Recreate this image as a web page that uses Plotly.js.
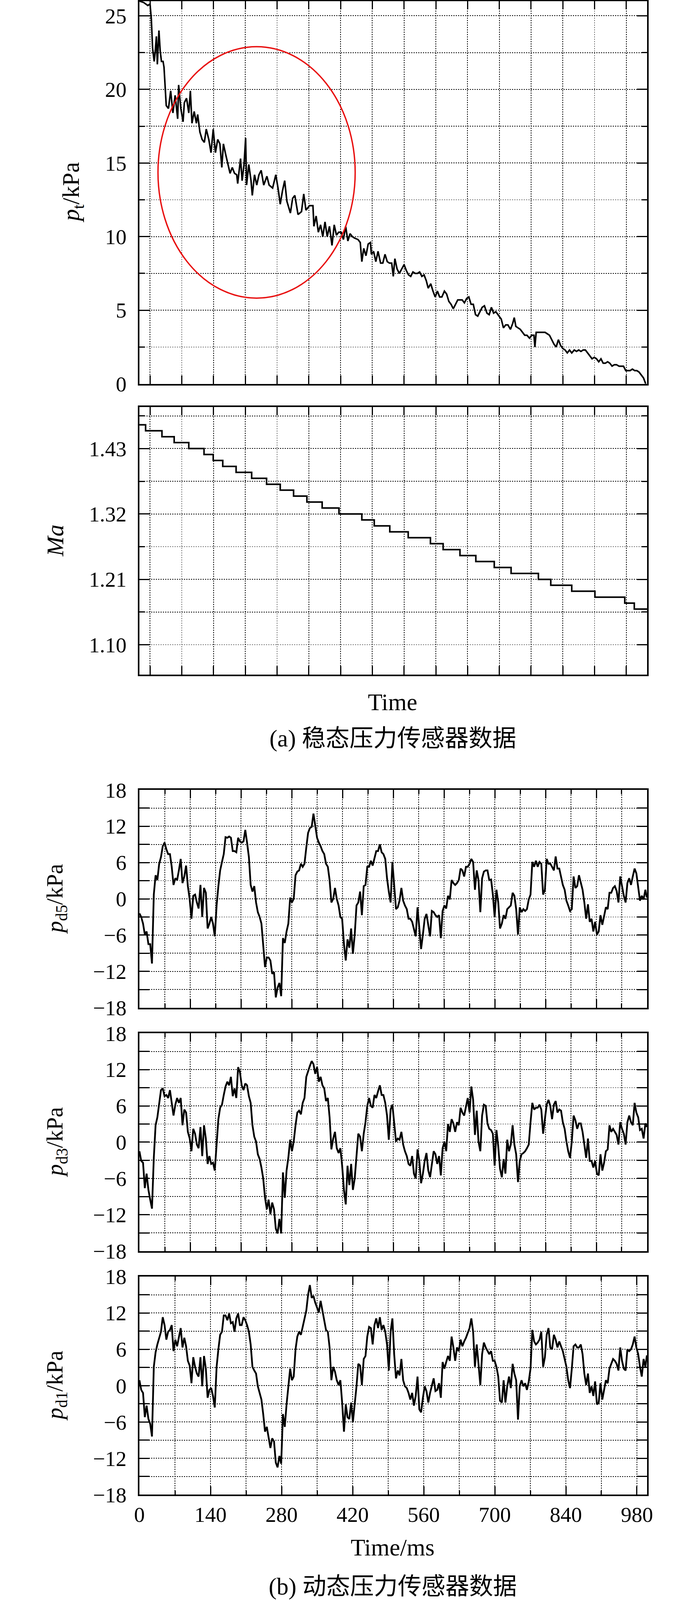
<!DOCTYPE html>
<html>
<head>
<meta charset="utf-8">
<script src="https://cdn.plot.ly/plotly-3.0.1.min.js"></script>
<style>html,body{margin:0;padding:0;background:#fff;overflow:hidden}#plot{display:block}</style>
</head>
<body>
<div id="plot"></div>
<script>
// (a) steady sensor: total pressure and Mach number, time in grid steps
var ptTime = [-0.33,-0.2,-0.07,0,0.04,0.08,0.13,0.16,0.2,0.23,0.28,0.32,0.36,0.41,0.44,0.51,0.58,0.65,0.72,0.79,0.87,0.9,0.97,1.04,1.08,1.15,1.22,1.27,1.32,1.39,1.46,1.5,1.57,1.64,1.71,1.77,1.85,1.92,1.99,2.06,2.13,2.2,2.26,2.31,2.38,2.45,2.52,2.59,2.66,2.73,2.76,2.85,2.9,2.96,3.01,3.04,3.11,3.18,3.22,3.29,3.36,3.43,3.5,3.58,3.68,3.75,3.86,3.96,4.03,4.1,4.17,4.24,4.31,4.42,4.49,4.56,4.66,4.77,4.84,4.91,5.02,5.13,5.16,5.23,5.3,5.37,5.44,5.51,5.58,5.65,5.73,5.8,5.87,5.94,6.02,6.09,6.16,6.23,6.30,6.37,6.44,6.55,6.62,6.67,6.73,6.80,6.87,6.94,6.97,7.04,7.11,7.18,7.26,7.33,7.40,7.47,7.54,7.61,7.66,7.71,7.78,7.85,7.93,8.0,8.07,8.14,8.21,8.28,8.35,8.42,8.49,8.56,8.63,8.70,8.76,8.84,8.91,8.98,9.05,9.12,9.19,9.27,9.34,9.41,9.48,9.55,9.62,9.69,9.76,9.83,9.90,9.97,10.04,10.11,10.18,10.25,10.32,10.39,10.46,10.53,10.61,10.68,10.75,10.82,10.89,10.99,11.06,11.13,11.20,11.27,11.35,11.42,11.47,11.52,11.59,11.66,11.73,11.80,11.87,11.95,12.02,12.09,12.12,12.16,12.23,12.30,12.37,12.44,12.51,12.58,12.65,12.72,12.79,12.86,12.93,13.0,13.07,13.14,13.21,13.28,13.36,13.43,13.50,13.57,13.64,13.71,13.78,13.85,13.92,13.99,14.06,14.13,14.20,14.27,14.34,14.41,14.48,14.55,14.62,14.69,14.77,14.84,14.91,14.98,15.05,15.12,15.19,15.26,15.33,15.40,15.47,15.54,15.61];
var ptKPa = [26.0,25.9,25.7,25.8,24.8,22.8,21.9,22.5,23.6,21.7,24.0,22.6,21.9,21.9,21.5,18.9,18.7,19.9,18.4,19.6,18.0,20.3,18.7,17.8,19.1,19.4,18.4,19.9,17.7,18.5,17.7,18.3,17.1,16.6,16.4,17.3,16.6,15.7,17.3,15.7,16.6,16.3,14.7,16.3,15.6,15.0,14.3,14.7,14.3,14.2,13.6,15.3,13.8,14.9,16.7,13.5,14.9,13.8,12.8,14.2,13.5,14.2,14.5,13.5,14.1,13.5,13.3,14.2,13.3,12.2,13.1,13.8,12.4,11.6,12.6,12.8,11.5,11.7,12.9,11.8,12.1,12.1,10.7,11.4,10.3,10.8,10.0,11.0,10.0,10.7,9.4,10.8,10.1,10.3,10.3,9.8,10.7,9.7,10.2,10.0,9.9,9.8,9.6,8.3,9.2,8.7,9.5,9.6,8.8,9.0,8.3,9.0,8.2,8.2,8.8,8.3,8.2,8.2,7.3,8.5,7.8,7.5,7.8,8.1,7.7,7.4,7.3,7.6,7.5,7.5,7.6,7.3,7.4,7.0,6.5,6.8,6.3,5.9,6.3,5.9,5.9,6.3,6.1,5.6,5.4,5.1,5.4,5.7,5.7,5.7,5.5,5.8,5.9,5.4,5.4,4.7,4.6,4.9,5.2,5.3,4.8,4.7,5.2,4.8,4.9,4.6,4.4,3.8,4.0,4.0,3.7,4.1,4.5,3.9,3.8,3.7,3.5,3.3,3.3,3.1,3.3,3.3,2.5,3.5,3.5,3.5,3.5,3.5,3.4,3.3,3.0,2.7,2.5,3.0,2.6,2.4,2.3,2.1,2.3,2.1,2.3,2.2,2.3,2.2,2.3,2.3,2.1,1.9,1.7,1.8,1.7,1.5,1.7,1.4,1.4,1.5,1.4,1.2,1.3,1.3,1.2,1.2,1.2,0.9,0.9,0.9,1.0,0.9,0.9,0.8,0.6,0.4,0.0];
var maTime = [-0.334,-0.14,0.375,0.76,1.22,1.70,1.99,2.29,2.71,3.20,3.67,4.10,4.52,4.94,5.42,5.95,6.67,7.06,7.55,8.13,8.83,9.23,9.76,10.26,10.84,11.37,12.23,12.62,13.28,14.01,14.95,15.25,15.653];
var maValue = [1.47,1.46,1.45,1.44,1.43,1.42,1.41,1.40,1.39,1.38,1.37,1.36,1.35,1.34,1.33,1.32,1.31,1.30,1.29,1.28,1.27,1.26,1.25,1.24,1.23,1.22,1.21,1.20,1.19,1.18,1.17,1.16,1.16];
var maTicks = [1.10,1.21,1.32,1.43];

// (b) dynamic sensors, time in ms
var timeMs = [0,3.5,7.1,10.6,14.1,17.7,21.2,24.7,28.3,31.8,35.3,38.9,42.4,45.9,49.5,53.0,56.5,60.1,63.6,67.1,70.7,74.2,77.7,81.3,84.8,88.4,91.9,95.4,99.0,102.5,106.0,109.6,113.1,116.6,120.2,123.7,127.2,130.8,134.3,137.8,141.4,144.9,148.4,152.0,155.5,159.0,162.6,166.1,169.6,173.2,176.7,180.2,183.8,187.3,190.8,194.4,197.9,201.4,205.0,208.5,212.0,215.6,219.1,222.6,226.2,229.7,233.2,236.8,240.3,243.8,247.4,250.9,254.4,258.0,261.5,265.1,268.6,272.1,275.7,279.2,282.7,286.3,289.8,293.3,296.9,300.4,303.9,307.5,311.0,314.5,318.1,321.6,325.1,328.7,332.2,335.7,339.3,342.8,346.3,349.9,353.4,356.9,360.5,364.0,367.5,371.1,374.6,378.1,381.7,385.2,388.7,392.3,395.8,399.3,402.9,406.4,409.9,413.5,417.0,420.5,424.1,427.6,431.1,434.7,438.2,441.8,445.3,448.8,452.4,455.9,459.4,463.0,466.5,470.0,473.6,477.1,480.6,484.2,487.7,491.2,494.8,498.3,501.8,505.4,508.9,512.4,516.0,519.5,523.0,526.6,530.1,533.6,537.2,540.7,544.2,547.8,551.3,554.8,558.4,561.9,565.4,569.0,572.5,576.0,579.6,583.1,586.6,590.2,593.7,597.2,600.8,604.3,607.8,611.4,614.9,618.5,622.0,625.5,629.1,632.6,636.1,639.7,643.2,646.7,650.3,653.8,657.3,660.9,664.4,667.9,671.5,675.0,678.5,682.1,685.6,689.1,692.7,696.2,699.7,703.3,706.8,710.3,713.9,717.4,720.9,724.5,728.0,731.5,735.1,738.6,742.1,745.7,749.2,752.7,756.3,759.8,763.3,766.9,770.4,773.9,777.5,781.0,784.5,788.1,791.6,795.2,798.7,802.2,805.8,809.3,812.8,816.4,819.9,823.4,827.0,830.5,834.0,837.6,841.1,844.6,848.2,851.7,855.2,858.8,862.3,865.8,869.4,872.9,876.4,880.0,883.5,887.0,890.6,894.1,897.6,901.2,904.7,908.2,911.8,915.3,918.8,922.4,925.9,929.4,933.0,936.5,940.0,943.6,947.1,950.6,954.2,957.7,961.2,964.8,968.3,971.8,975.4,978.9,982.5,986.0,989.5,993.1,996.6,999.6];
var pd5KPa = [-2.4,-3.0,-4.1,-5.9,-5.4,-7.5,-7.5,-10.7,0.7,3.9,3.1,5.8,6.9,8.7,9.3,8.2,7.4,7.4,5.3,2.3,3.4,3.1,4.7,6.6,2.6,3.7,5.5,2.1,-0.1,-3.3,0.5,0.7,-0.6,-1.6,2.3,-3.0,1.8,1.0,-4.9,-4.1,-3.0,-4.1,-6.2,-1.1,2.1,4.7,6.1,7.4,10.2,10.1,10.3,10.1,7.9,7.9,7.7,10.1,9.5,9.3,9.5,11.4,9.3,6.9,2.3,1.2,2.1,-0.6,-2.2,-3.0,-4.1,-7.5,-11.3,-9.7,-9.7,-10.2,-12.4,-12.1,-16.3,-14.7,-13.9,-16.1,-6.5,-7.3,-5.4,-4.1,0.2,-0.6,0,3.9,4.5,4.7,5.8,5.3,5.8,8.5,10.9,11.7,11.9,14.1,11.9,10.1,9.3,8.7,7.9,7.4,5.8,5.3,3.1,-0.6,0,1.8,0,-1.1,-3.0,-3.3,-7.5,-10.2,-6.7,-8.1,-4.9,-9.1,-5.9,-1.1,-0.6,1.2,-2.7,2.1,2.3,5.3,5.3,6.3,5.5,6.6,7.9,7.9,9.0,7.7,7.4,6.6,3.4,1.2,-0.6,6.1,2.1,-1.7,-1.4,-0.3,1.8,-0.3,-1.1,-1.7,-3.3,-3.3,-3.8,-4.9,-6.2,-1.4,-4.6,-8.3,-5.9,-3.3,-2.5,-4.6,-6.2,-2.0,-2.2,-2.7,-3.0,-2.7,-6.5,-2.0,-1.1,-1.6,0.5,-0.1,3.1,2.6,2.3,2.6,3.1,5.0,4.7,3.7,5.3,5.3,5.8,6.6,6.1,1.5,4.7,3.1,-2.2,3.4,4.5,4.7,4.7,3.1,3.2,0.7,-3.0,1.5,-0.6,-4.9,-4.1,-2.7,-3.3,-1.7,-1.4,-1.1,1.0,0.5,-1.7,-5.9,-1.4,-2.2,-1.7,-2.0,-1.7,-0.1,0.7,6.1,5.3,6.3,5.3,6.1,5.8,0.7,1.5,6.6,5.8,5.8,5.3,4.7,7.0,5.0,5.0,3.7,2.3,1.5,-0.3,-1.1,-2.0,-1.7,3.7,1.8,2.1,3.9,2.6,1.5,-0.6,-3.3,-0.9,-3.8,-3.3,-5.4,-3.8,-5.9,-5.4,-2.7,-4.3,-3.0,-1.4,-1.7,1.0,1.0,1.8,2.1,1.3,-0.6,3.7,2.1,0.5,-0.6,2.6,3.4,2.3,3.7,5.0,4.2,2.1,-0.3,0.5,-0.1,1.5,0.2];
var pd3KPa = [-1.5,-3.1,-3.4,-7.6,-5.2,-7.9,-9.5,-11.0,-2.6,2.8,4.1,6.2,8.6,8.9,7.6,7.8,7.3,8.6,6.5,4.4,6.2,7.3,6.5,7.3,2.8,5.4,4.9,1.7,0.6,-1.5,2.2,1.4,-0.4,-1.0,2.5,-2.3,2.8,0.6,-3.6,-2.3,-3.6,-3.4,-4.7,-0.4,3.8,5.7,6.2,7.8,9.2,10.0,9.4,10.8,7.6,8.9,7.3,12.4,11.6,9.4,8.6,9.7,9.4,7.6,6.5,2.8,0.9,0.1,-2.0,-2.8,-4.2,-6.0,-9.2,-11.1,-9.5,-11.9,-10.0,-11.1,-14.3,-15.1,-12.7,-15.1,-5.0,-9.2,-4.7,-2.6,0.4,-1.5,0.1,2.8,4.9,5.2,4.6,6.5,7.3,10.8,11.8,12.6,13.4,12.9,11.3,12.4,10.0,10.8,9.4,8.9,6.8,7.3,4.1,-1.2,0.6,1.7,-1.0,-1.8,-1.0,-3.9,-7.9,-10.3,-3.9,-7.1,-3.6,-7.9,-6.0,-2.6,1.4,0.9,-1.5,1.4,3.3,6.0,7.3,6.0,5.7,7.8,7.3,8.4,9.4,7.8,7.8,6.5,4.4,0.4,5.4,6.2,2.8,0.1,0.6,0.4,1.7,-0.4,-1.5,-2.3,-3.6,-3.9,-2.3,-5.2,-6.0,-1.2,-3.1,-6.8,-5.2,-3.1,-1.8,-4.7,-5.8,-3.6,-1.5,-2.0,-3.6,-2.3,-5.5,-1.0,0.1,-1.5,3.0,1.7,3.8,3.1,1.7,3.3,2.8,5.7,4.9,4.4,6.0,7.3,4.9,9.2,7.0,1.2,5.2,0.1,-1.5,4.4,6.2,6.0,3.1,2.2,2.0,1.4,-3.9,2.0,-0.7,-4.4,-5.8,-2.8,-5.2,0.4,-1.5,-0.4,2.8,-0.4,-2.0,-6.6,-3.1,-2.0,-1.8,-1.5,-1.0,-0.4,3.3,6.5,5.4,5.7,5.7,6.2,5.4,1.4,3.8,6.2,7.0,6.0,3.8,6.2,6.8,4.9,5.4,5.2,3.3,2.2,0.1,-1.5,-2.6,0.1,4.4,3.6,2.2,3.1,3.1,1.7,-0.4,-2.6,0.6,-3.1,-3.1,-4.2,-3.1,-5.2,-5.5,-2.0,-4.7,-3.4,-1.5,-1.2,2.8,1.7,2.2,1.7,1.2,-0.4,3.3,2.2,1.4,-0.4,3.3,4.4,3.3,2.8,6.5,4.9,4.1,2.0,2.2,0.6,3.1,2.5];
var pd1KPa = [0.9,-0.7,-1.2,-5.2,-3.3,-5.5,-6.3,-8.4,3.1,5.5,6.8,7.9,8.9,11.3,10.0,7.6,8.9,9.2,10.0,5.7,7.6,6.5,7.9,9.5,6.3,7.9,6.5,4.1,3.3,0.4,4.7,3.1,2.0,1.5,4.7,-0.1,4.9,2.8,-2.0,-0.7,-0.4,-1.7,-3.6,3.1,6.0,8.4,8.9,11.6,11.6,10.8,11.9,10.3,10.5,8.9,11.1,11.9,10.0,10.0,11.3,10.8,10.0,8.9,6.8,3.1,2.5,2.0,-0.1,-1.2,-2.3,-4.7,-7.6,-6.8,-8.7,-10.3,-8.7,-9.2,-12.7,-13.5,-11.6,-12.9,-4.7,-6.8,-3.1,-0.4,2.8,0.9,1.5,6.0,8.1,8.9,8.4,9.7,11.1,12.4,15.0,16.6,14.5,14.8,13.7,12.9,12.1,14.0,12.4,10.8,9.2,8.9,6.3,0.9,3.1,2.3,0.9,0.1,0.9,-2.8,-7.6,-3.1,-5.2,-5.5,-2.8,-6.0,-3.3,-0.1,3.6,3.3,0.1,4.4,4.9,8.1,9.7,9.5,6.8,10.0,11.1,9.5,11.3,9.2,10.0,8.9,6.8,2.5,8.9,11.1,5.2,1.2,2.5,1.7,4.4,0.9,-0.1,-0.4,-1.2,-2.3,-1.2,-3.3,-1.7,1.5,-3.9,-4.4,-2.0,-0.1,-0.9,-2.8,-1.2,-0.1,1.2,-0.9,-0.7,0.4,-2.0,3.9,2.8,3.9,4.9,4.1,8.1,6.3,4.1,6.3,5.7,7.6,6.5,7.3,7.9,8.7,9.5,11.1,8.9,3.1,6.8,3.6,0.1,5.2,7.1,6.3,5.7,5.2,5.7,4.1,4.1,3.1,1.5,-2.5,-2.8,0.9,-2.8,-0.1,1.5,-0.4,3.6,2.0,0.9,-5.6,-0.1,0.9,-0.1,0.4,-0.7,0.7,2.8,9.2,7.3,6.8,7.1,7.6,8.9,3.1,4.7,8.4,9.5,6.3,6.0,8.4,7.6,6.3,7.3,6.5,5.7,4.4,3.1,0.9,-0.4,2.8,6.5,6.8,6.3,6.3,6.8,5.2,2.0,0.1,2.0,-1.2,-0.1,-1.7,0.7,-3.1,-2.8,0.4,-2.3,-0.7,0.9,0.4,2.8,3.6,4.4,4.1,3.6,2.5,6.3,4.1,2.8,2.5,6.0,5.7,6.0,6.8,8.1,6.3,5.2,3.1,1.5,4.4,3.1,5.0];
var timeTicks = [0,140,280,420,560,700,840,980];

// the window may be shorter than the figure: fit the figure to it
var W = 1772;
var H = Math.min(window.innerHeight || 4557, 4557);
var s = H / 4557;
var el = document.getElementById('plot');
el.style.width = W + 'px';
el.style.height = H + 'px';

var serif = 'Liberation Serif, Times New Roman, serif';
var xDomain = [0.2015, 0.9351];
var fs = Math.round(61 * s);
var grid = {gridcolor: '#000', gridwidth: 1.8, griddash: 'dot'};

function frame(o) {
  var a = {showline: true, linecolor: '#000', linewidth: 4, mirror: 'ticks',
    ticks: 'inside', tickcolor: '#000', tickwidth: 3, ticklen: 24 * s,
    zeroline: false, showgrid: true, gridcolor: grid.gridcolor, gridwidth: grid.gridwidth, griddash: grid.griddash,
    tickfont: {family: serif, size: fs, color: '#000'}, fixedrange: true};
  for (var k in o) a[k] = o[k];
  return a;
}
function minor(t0, step, len) {
  return {tick0: t0, dtick: step, ticks: 'inside', ticklen: len, tickwidth: 3, tickcolor: '#000',
    showgrid: true, gridcolor: grid.gridcolor, gridwidth: grid.gridwidth, griddash: grid.griddash};
}
function topX(anchor) {
  return frame({domain: xDomain, anchor: anchor, range: [-0.334, 15.653], tick0: 0, dtick: 1, showticklabels: false});
}
function dynX(anchor, labels) {
  if (labels) {
    return frame({domain: xDomain, anchor: anchor, range: [0, 1000], tickmode: 'array', tickvals: timeTicks,
      minor: minor(0, 70, 12 * s), ticklabelstandoff: 12 * s});
  }
  return frame({domain: xDomain, anchor: anchor, range: [0, 1000], tick0: 0, dtick: 100,
    minor: minor(0, 50, 12 * s), showticklabels: false});
}
function dynY(anchor, dom) {
  return frame({domain: dom, anchor: anchor, range: [-18, 18], tick0: 0, dtick: 6, ticklen: 26,
    minor: minor(0, 3, 26), ticklabelstandoff: 18});
}

var line = {color: '#000', width: 4.5};
var data = [
  {x: ptTime, y: ptKPa, xaxis: 'x', yaxis: 'y', mode: 'lines', line: {color: '#000', width: 4}},
  {x: maTime, y: maValue, xaxis: 'x2', yaxis: 'y2', mode: 'lines', line: {color: '#000', width: 4, shape: 'hv'}},
  {x: timeMs, y: pd5KPa, xaxis: 'x3', yaxis: 'y3', mode: 'lines', line: line},
  {x: timeMs, y: pd3KPa, xaxis: 'x4', yaxis: 'y4', mode: 'lines', line: line},
  {x: timeMs, y: pd1KPa, xaxis: 'x5', yaxis: 'y5', mode: 'lines', line: line}
];

function label(txt, x, y, size, angle) {
  return {text: txt, xref: 'paper', yref: 'paper', x: x, y: y, xanchor: 'center', yanchor: 'middle',
    showarrow: false, textangle: angle || 0,
    font: {family: serif + ', Noto Sans CJK SC', size: Math.round(size * s), color: '#000'}};
}

var layout = {
  width: W, height: H, autosize: false,
  margin: {l: 0, r: 0, t: 0, b: 0},
  paper_bgcolor: '#fff', plot_bgcolor: '#fff',
  showlegend: false,
  xaxis: topX('y'),
  yaxis: frame({domain: [0.7601, 0.99934], anchor: 'x', range: [0, 26], tick0: 0, dtick: 5, ticklen: 26,
    minor: minor(0, 2.5, 14), ticklabelstandoff: 18}),
  xaxis2: topX('y2'),
  yaxis2: frame({domain: [0.57845, 0.74566], anchor: 'x2', range: [1.05, 1.50], tickmode: 'array',
    tickvals: maTicks, ticktext: maTicks.map(function (v) { return v.toFixed(2); }), ticklen: 26,
    minor: minor(1.10, 0.055, 14), ticklabelstandoff: 18}),
  xaxis3: dynX('y3', false),
  yaxis3: dynY('x3', [0.37020, 0.50626]),
  xaxis4: dynX('y4', false),
  yaxis4: dynY('x4', [0.21813, 0.35418]),
  xaxis5: dynX('y5', true),
  yaxis5: dynY('x5', [0.06583, 0.20211]),
  shapes: [{type: 'circle', xref: 'x', yref: 'y', x0: 0.25, x1: 6.46, y0: 5.82, y1: 22.9,
    line: {color: '#e81010', width: 3.5}, layer: 'above'}],
  annotations: [
    label('<i>p</i><sub>t</sub>/kPa', 0.105, 0.8797, 68, -90),
    label('<i>Ma</i>', 0.0796, 0.6621, 68, -90),
    label('Time', 0.5677, 0.5611, 68),
    label('(a) 稳态压力传感器数据', 0.5677, 0.5383, 68),
    label('<i>p</i><sub>d5</sub>/kPa', 0.0813, 0.4382, 66, -90),
    label('<i>p</i><sub>d3</sub>/kPa', 0.0813, 0.2862, 66, -90),
    label('<i>p</i><sub>d1</sub>/kPa', 0.0813, 0.1340, 66, -90),
    label('Time/ms', 0.5677, 0.0329, 68),
    label('(b) 动态压力传感器数据', 0.5677, 0.0083, 68)
  ]
};

Plotly.newPlot('plot', data, layout, {staticPlot: true});
</script>
</body>
</html>
